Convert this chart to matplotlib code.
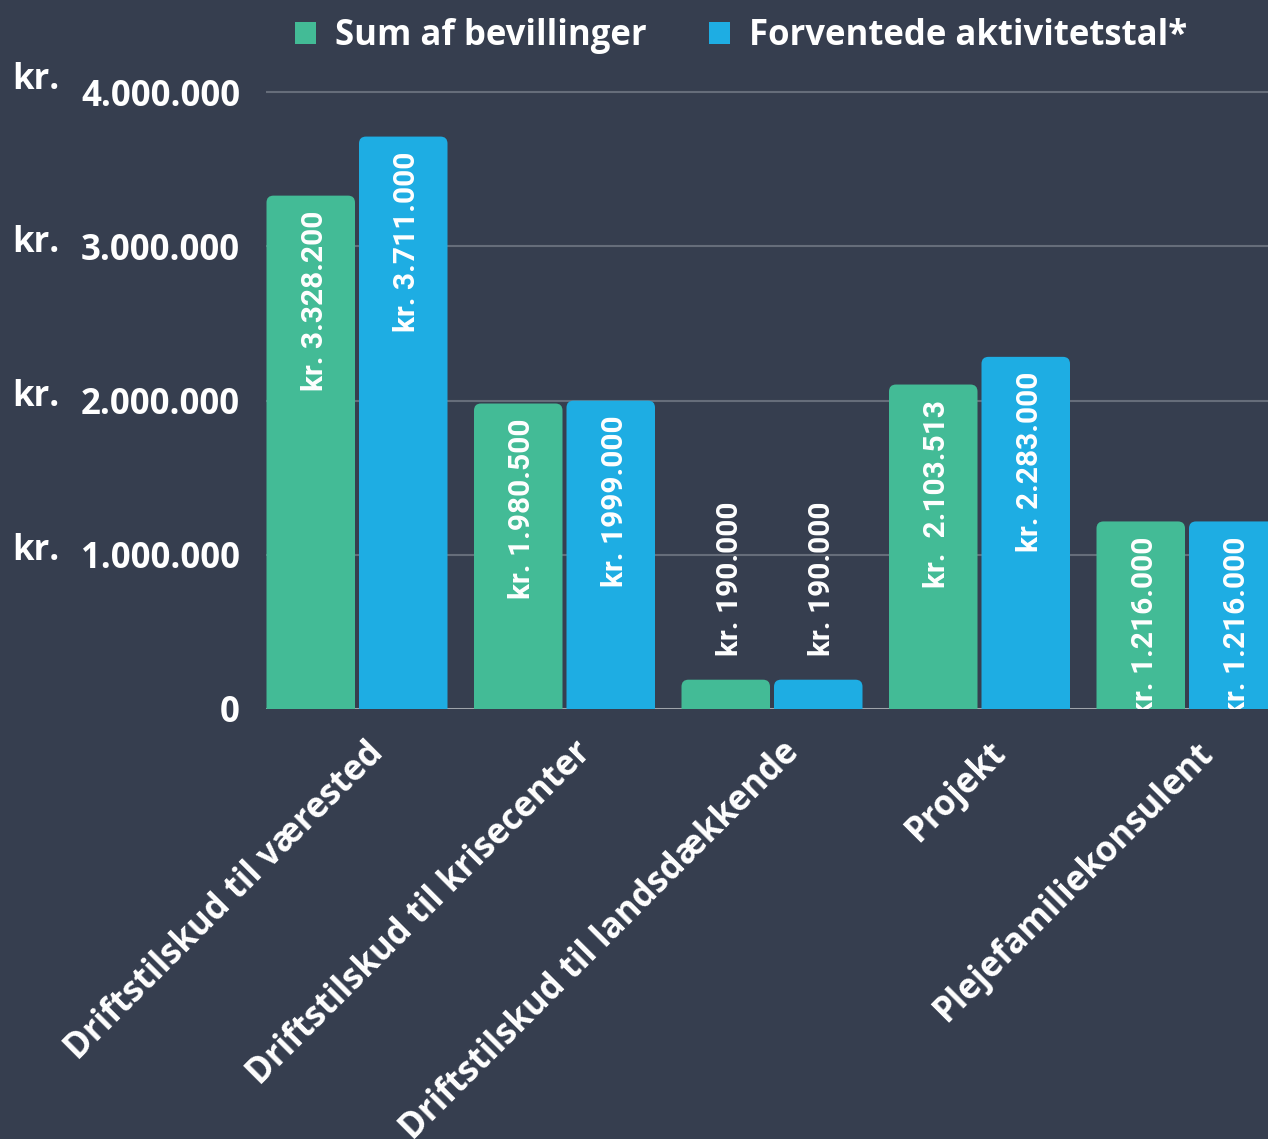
import matplotlib
matplotlib.use("Agg")
import matplotlib.pyplot as plt
import matplotlib.patches as mpatches
import matplotlib.transforms as mtransforms
import numpy as np

# ---------------- data ----------------
categories = ["Driftstilskud til værested", "Driftstilskud til krisecenter",
              "Driftstilskud til landsdækkende", "Projekt", "Plejefamiliekonsulent"]
bevillinger = [3328200, 1980500, 190000, 2103513, 1216000]
aktivitet = [3711000, 1999000, 190000, 2283000, 1216000]
labels_bev = ["kr. 3.328.200", "kr. 1.980.500", "kr. 190.000", "kr.  2.103.513", "kr. 1.216.000"]
labels_akt = ["kr. 3.711.000", "kr. 1999.000", "kr. 190.000", "kr. 2.283.000", "kr. 1.216.000"]
series_names = ["Sum af bevillinger", "Forventede aktivitetstal*"]
yticks = [0, 1000000, 2000000, 3000000, 4000000]
ytick_labels = ["0", "1.000.000", "2.000.000", "3.000.000", "4.000.000"]
kr_offsets_px = [None, 4, 3, 3, 12]

# ---------------- style ----------------
BG = "#363e4f"
GREEN = "#43bb96"
BLUE = "#1eade3"
GRID = "#666d7a"
BASE = "#a7abb2"
WHITE = "#ffffff"
FONT = "Open Sans"
LABEL_FONT = "Roboto"
FS = 25
LFS = 21.5

W, H, DPI = 1268, 1139, 100
fig = plt.figure(figsize=(W / DPI, H / DPI), dpi=DPI, facecolor=BG)

# axes geometry (pixels)
ax_left_px, ax_right_px = 266, 1268
y0_px, y4_px = 709, 92
px_per_unit_y = (y0_px - y4_px) / 4e6
ymax = 4.25e6
ax_top_px = y0_px - ymax * px_per_unit_y
ax = fig.add_axes([ax_left_px / W, 1 - y0_px / H,
                   (ax_right_px - ax_left_px) / W, (y0_px - ax_top_px) / H])
ax.set_facecolor(BG)

group_px = 207.5
first_center_px = 357
x = np.arange(len(categories))
ax.set_xlim((ax_left_px - first_center_px) / group_px,
            (ax_right_px - first_center_px) / group_px)
ax.set_ylim(0, ymax)

off = 0.2229
bw = 0.4265
bars_g = ax.bar(x - off, bevillinger, width=bw, color=GREEN, zorder=2)
bars_b = ax.bar(x + off, aktivitet, width=bw, color=BLUE, zorder=2)

# rounded tops
r_px = 7
r_x = r_px / group_px
aspect = (1 / px_per_unit_y) / (1 / group_px)
for bars in (bars_g, bars_b):
    for b in bars:
        b.set_visible(False)
        x0, w, h = b.get_x(), b.get_width(), b.get_height()
        ext = 3 * r_x * aspect
        p = mpatches.FancyBboxPatch((x0, -ext), w, h + ext,
                                    boxstyle=f"round,pad=0,rounding_size={r_x}",
                                    mutation_aspect=aspect,
                                    facecolor=b.get_facecolor(), edgecolor="none",
                                    zorder=2, clip_on=True)
        ax.add_patch(p)

# value labels
def add_labels(bars, labels):
    for b, lab in zip(bars, labels):
        cx = b.get_x() + b.get_width() / 2
        h = b.get_height()
        if h < 0.5e6:
            ax.annotate(lab, (cx, h), xytext=(4, 24), textcoords="offset pixels",
                        rotation=90, ha="center", va="bottom", color=WHITE,
                        fontsize=LFS, family=LABEL_FONT, fontweight="bold",
                        zorder=4, annotation_clip=False)
        else:
            t = ax.annotate(lab, (cx, h), xytext=(4, -15), textcoords="offset pixels",
                            rotation=90, ha="center", va="top", color=WHITE,
                            fontsize=LFS, family=LABEL_FONT, fontweight="bold",
                            zorder=4)
            t.set_clip_on(True)
            t.set_clip_box(ax.bbox)

add_labels(bars_g, labels_bev)
add_labels(bars_b, labels_akt)

# grid & spines
ax.set_axisbelow(True)
ax.yaxis.grid(True, color=GRID, linewidth=1.5)
ax.xaxis.grid(False)
for s in ax.spines.values():
    s.set_visible(False)
ax.axhline(0, color=BASE, linewidth=2, zorder=1.5)

# y ticks
ax.set_yticks(yticks)
ax.set_yticklabels(ytick_labels)
ax.tick_params(axis="y", length=0, pad=26 * 72 / DPI, labelsize=FS, labelcolor=WHITE)
for lbl in ax.get_yticklabels():
    lbl.set_fontfamily(FONT)
    lbl.set_fontweight("bold")

# "kr." prefixes
for v, offp in zip(yticks, kr_offsets_px):
    if offp is None:
        continue
    tr = mtransforms.blended_transform_factory(fig.transFigure, ax.transData)
    tr = tr + mtransforms.ScaledTranslation(0, offp / DPI, fig.dpi_scale_trans)
    ax.text(12 / W, v, "kr.", transform=tr, ha="left", va="center",
            color=WHITE, fontsize=FS, family=FONT, fontweight="bold",
            clip_on=False)

# x ticks
ax.set_xticks(x)
ax.set_xticklabels(categories, rotation=45, ha="right", rotation_mode="anchor")
ax.tick_params(axis="x", length=0, pad=26 * 72 / DPI, labelsize=FS, labelcolor=WHITE)
shift = mtransforms.ScaledTranslation(9 / DPI, 0, fig.dpi_scale_trans)
for lbl in ax.get_xticklabels():
    lbl.set_fontfamily(FONT)
    lbl.set_fontweight("bold")
    lbl.set_transform(lbl.get_transform() + shift)

# legend
handles = [mpatches.Patch(facecolor=GREEN, edgecolor="none", label=series_names[0]),
           mpatches.Patch(facecolor=BLUE, edgecolor="none", label=series_names[1])]
leg = fig.legend(handles=handles, loc="center", ncol=2,
                 bbox_to_anchor=(741 / W, 1 - 36 / H), frameon=False,
                 prop={"family": FONT, "weight": "bold", "size": FS},
                 handlelength=0.6, handleheight=0.6, handletextpad=0.55,
                 columnspacing=1.8, borderpad=0, borderaxespad=0)
for t in leg.get_texts():
    t.set_color(WHITE)

fig.savefig("out.png", dpi=DPI, facecolor=BG)
